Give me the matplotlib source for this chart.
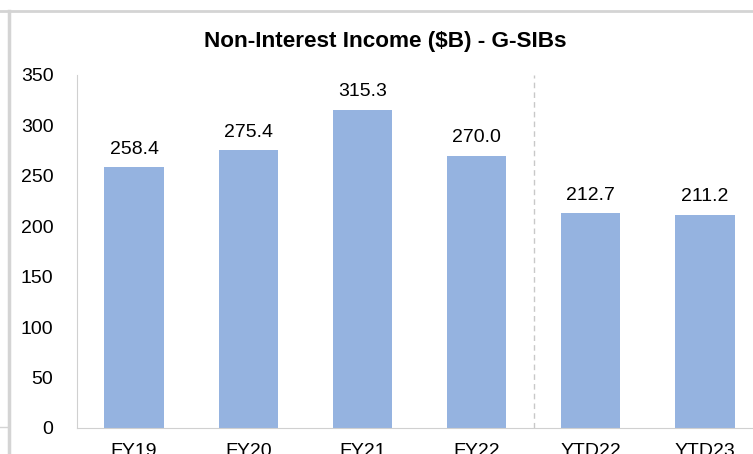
import matplotlib.pyplot as plt
from matplotlib.lines import Line2D

categories = ["FY19", "FY20", "FY21", "FY22", "YTD22", "YTD23"]
values = [258.4, 275.4, 315.3, 270.0, 212.7, 211.2]
y_ticks = [0, 50, 100, 150, 200, 250, 300, 350]

plt.rcParams['font.family'] = ['Liberation Sans', 'DejaVu Sans']

fig = plt.figure(figsize=(7.53, 4.54), dpi=100)

# spreadsheet cell borders around the chart
fig.add_artist(Line2D([0, 1], [1 - 11 / 454, 1 - 11 / 454], color="#d4d4d4", lw=2))
fig.add_artist(Line2D([9 / 753, 9 / 753], [0, 1 - 11 / 454], color="#d4d4d4", lw=2.5))
fig.add_artist(Line2D([0, 9 / 753], [27 / 454, 27 / 454], color="#d4d4d4", lw=1))

ax = fig.add_axes([77 / 753, 26 / 454, 685 / 753, 353 / 454])
x = range(len(categories))
bars = ax.bar(x, values, width=0.52, color="#95b3e0")

for i, v in enumerate(values):
    ax.annotate(f"{v:.1f}", (i, v), xytext=(0, 7), textcoords="offset points",
                ha="center", va="bottom", fontsize=14)

ax.axvline(3.5, color="#c8c8c8", lw=1, ls=(0, (4, 3)))

ax.set_xlim(-0.5, 5.5)
ax.set_ylim(0, 350)
ax.set_yticks(y_ticks)
ax.set_xticks(list(x))
ax.set_xticklabels(categories)
ax.tick_params(axis="both", length=0, labelsize=14)
ax.tick_params(axis="y", pad=17)
ax.tick_params(axis="x", pad=11)
for s in ["top", "right"]:
    ax.spines[s].set_visible(False)
for s in ["left", "bottom"]:
    ax.spines[s].set_color("#d0d0d0")

fig.text(385 / 753, 1 - 41 / 454, "Non-Interest Income ($B) - G-SIBs",
         ha="center", va="center", fontsize=16.2, fontweight="bold")

fig.savefig("out.png", dpi=100)
